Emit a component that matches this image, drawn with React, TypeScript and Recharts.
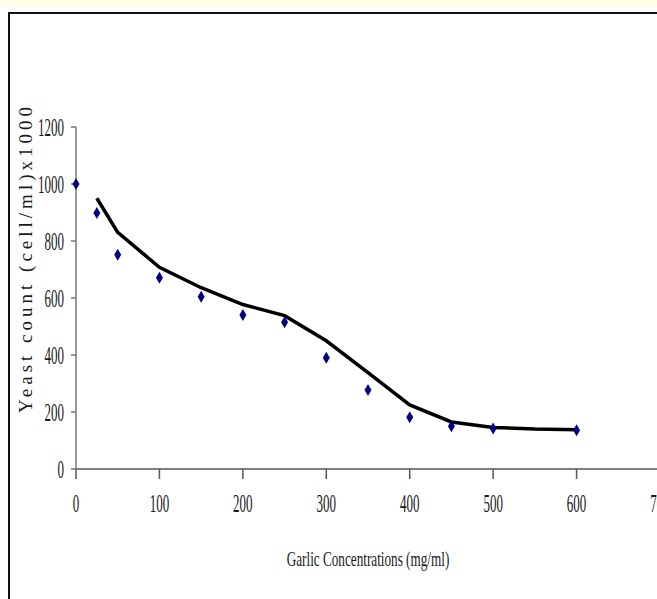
import { ComposedChart, Line, Scatter, XAxis, YAxis, Label } from 'recharts'

const serif = '"Liberation Serif", "Times New Roman", serif'

// measured yeast counts (diamonds)
const concentrations = [0, 25, 50, 100, 150, 200, 250, 300, 350, 400, 450, 500, 600]
const counts = [1000, 898, 752, 671, 604, 540, 515, 390, 277, 182, 150, 142, 136]

// fitted trend line
const trendX = [25, 50, 100, 150, 200, 250, 300, 350, 400, 450, 500, 550, 600]
const trendY = [950, 830, 708, 636, 577, 538, 450, 338, 225, 165, 146, 140, 138]

const xTicks = [0, 100, 200, 300, 400, 500, 600, 700]
const yTicks = [0, 200, 400, 600, 800, 1000, 1200]

const points = concentrations.map((x, i) => ({ x, y: counts[i] }))
const trend = trendX.map((x, i) => ({ x, t: trendY[i] }))

const XTick = ({ x, y, payload }: any) => (
  <text
    transform={`translate(${x},${y + 31}) scale(0.5,1)`}
    textAnchor="middle"
    fontFamily={serif}
    fontSize={26}
    fill="#1a1a1a"
  >
    {payload.value}
  </text>
)

const YTick = ({ x, y, payload }: any) => (
  <text
    transform={`translate(${x - 5},${y + 9}) scale(0.5,1)`}
    textAnchor="end"
    fontFamily={serif}
    fontSize={26}
    fill="#1a1a1a"
  >
    {payload.value}
  </text>
)

const Diamond = ({ cx, cy }: any) => (
  <polygon
    points={`${cx},${cy - 6} ${cx + 3.5},${cy} ${cx},${cy + 6} ${cx - 3.5},${cy}`}
    fill="#000080"
  />
)

const XTitle = ({ viewBox }: any) => {
  const cx = viewBox.x + viewBox.width / 2
  return (
    <text
      transform={`translate(${cx},${566}) scale(0.6,1)`}
      textAnchor="middle"
      fontFamily={serif}
      fontSize={22}
      fill="#1a1a1a"
    >
      Garlic Concentrations (mg/ml)
    </text>
  )
}

export default function App() {
  return (
    <div style={{ position: 'absolute', left: 0, top: 0, width: 657, height: 599, overflow: 'hidden', background: '#fff' }}>
      <div style={{ position: 'absolute', left: 1, top: 0, width: 656, height: 7, background: '#fffbe6' }} />
      <div
        style={{
          position: 'absolute', left: 8, top: 12, width: 700, height: 640,
          borderLeft: '2px solid #111', borderTop: '2px solid #111',
        }}
      />
      <div style={{ position: 'absolute', left: 0, top: 0 }}>
        <ComposedChart width={720} height={599} margin={{ top: 127, right: 60, bottom: 0, left: 0 }}>
          <XAxis
            type="number"
            dataKey="x"
            domain={[0, 700]}
            ticks={xTicks}
            height={130}
            stroke="#555"
            strokeWidth={1.5}
            tickSize={10}
            tick={<XTick />}
            interval={0}
          >
            <Label content={<XTitle />} />
          </XAxis>
          <YAxis
            type="number"
            domain={[0, 1200]}
            ticks={yTicks}
            width={76}
            stroke="#777"
            strokeWidth={1.5}
            tickSize={5}
            tick={<YTick />}
            interval={0}
          >
            <Label
              content={() => (
                <text
                  transform="translate(32,258) rotate(-90)"
                  textAnchor="middle"
                  fontFamily={serif}
                  fontSize={19}
                  letterSpacing={4}
                  fill="#1a1a1a"
                >
                  Yeast count (cell/ml)x1000
                </text>
              )}
            />
          </YAxis>
          <Line
            data={trend}
            dataKey="t"
            type="linear"
            stroke="#000"
            strokeWidth={3.5}
            dot={false}
            activeDot={false}
            isAnimationActive={false}
          />
          <Scatter data={points} dataKey="y" shape={<Diamond />} isAnimationActive={false} />
        </ComposedChart>
      </div>
    </div>
  )
}
